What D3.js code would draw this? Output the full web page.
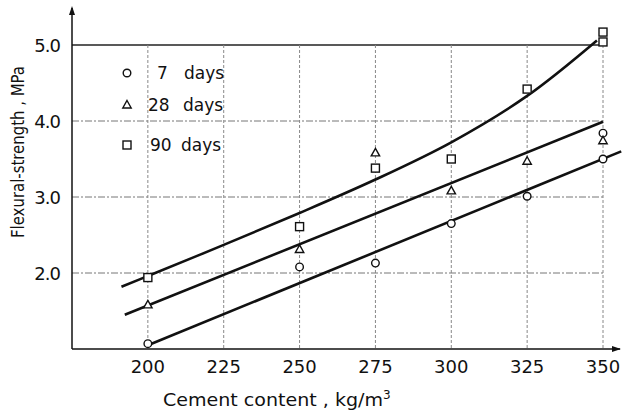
<!DOCTYPE html>
<html><head><meta charset="utf-8">
<script src="https://cdn.jsdelivr.net/npm/d3@7"></script>
<style>body{margin:0;background:#fff}svg{display:block}text{font-family:"DejaVu Sans",sans-serif;fill:#111}</style>
</head><body><svg id="c" width="623" height="413"></svg>
<script>
const xTicks=[200,225,250,275,300,325,350];
const yTicks=[2.0,3.0,4.0,5.0];
const days7=[[200,1.07],[250,2.08],[275,2.13],[300,2.65],[325,3.01],[350,3.84],[350,3.5]];
const days28=[[200,1.58],[250,2.31],[275,3.58],[300,3.08],[325,3.47],[350,3.74]];
const days90=[[200,1.94],[250,2.61],[275,3.38],[300,3.5],[325,4.42],[350,5.17],[350,5.04]];
const fit7=[[200,1.05],[356,3.6]];
const fit28=[[192.4,1.45],[350,3.99]];
const fit90=[[191.3,1.82],[200,1.96],[225,2.37],[250,2.79],[275,3.23],[300,3.72],[325,4.33],[348,5.06]];
const legendItems=[{s:"circle",n:"7",t:"days"},{s:"triangle",n:"28",t:"days"},{s:"square",n:"90",t:"days"}];

const svg=d3.select("#c");
const x=d3.scaleLinear().domain([175,350]).range([72,603]);
const y=d3.scaleLinear().domain([1,5]).range([349,45]);

// grid
svg.selectAll(".hg").data(yTicks).join("line")
 .attr("x1",x(175)).attr("x2",x(350)).attr("y1",d=>y(d)).attr("y2",d=>y(d))
 .attr("stroke",d=>d===5?"#222":"#777").attr("stroke-width",d=>d===5?1.3:1)
 .attr("stroke-dasharray",d=>d===5?null:"7,2,2,2");
svg.selectAll(".vg").data(xTicks).join("line")
 .attr("x1",d=>x(d)).attr("x2",d=>x(d)).attr("y1",y(5)).attr("y2",y(1))
 .attr("stroke","#888").attr("stroke-width",1).attr("stroke-dasharray","3,2");

// axes
svg.append("line").attr("x1",x(175)).attr("x2",x(175)).attr("y1",y(1)).attr("y2",8).attr("stroke","#111").attr("stroke-width",1.5);
svg.append("path").attr("d",`M${x(175)},6 l-3,9 l6,0 z`).attr("fill","#111");
svg.append("line").attr("x1",x(175)).attr("x2",620).attr("y1",y(1)).attr("y2",y(1)).attr("stroke","#111").attr("stroke-width",1.5);
svg.append("path").attr("d",`M621,${y(1)} l-9,-3 l0,6 z`).attr("fill","#111");

// tick labels
svg.selectAll(".xt").data(xTicks).join("text")
 .attr("x",d=>x(d)).attr("y",y(1)+24).attr("text-anchor","middle")
 .attr("font-size",18).text(d=>d);
svg.selectAll(".yt").data(yTicks).join("text")
 .attr("x",60).attr("y",d=>y(d)+7).attr("text-anchor","end")
 .attr("font-size",18).attr("letter-spacing",-1).text(d=>d.toFixed(1));

// axis titles
const xl=svg.append("text").attr("x",163).attr("y",406).attr("font-size",17);
xl.append("tspan").attr("textLength",220).attr("lengthAdjust","spacingAndGlyphs").text("Cement content , kg/m");
xl.append("tspan").attr("dy",-7).attr("font-size",12).text("3");
svg.append("text").attr("transform","translate(24,152) rotate(-90)").attr("text-anchor","middle")
 .attr("font-size",17).attr("textLength",172).attr("lengthAdjust","spacingAndGlyphs").text("Flexural-strength , MPa");

// fit lines
const line=d3.line().x(d=>x(d[0])).y(d=>y(d[1]));
const lineC=d3.line().x(d=>x(d[0])).y(d=>y(d[1])).curve(d3.curveCatmullRom);
[fit7,fit28].forEach(f=>svg.append("path").attr("d",line(f)).attr("fill","none").attr("stroke","#111").attr("stroke-width",2.6));
svg.append("path").attr("d",lineC(fit90)).attr("fill","none").attr("stroke","#111").attr("stroke-width",2.6);

// markers
function marker(g,s,cx,cy){
  if(s==="circle") g.append("circle").attr("cx",cx).attr("cy",cy).attr("r",3.8);
  else if(s==="triangle") g.append("path").attr("d",`M${cx},${cy-4.5} L${cx+4.2},${cy+3} L${cx-4.2},${cy+3} Z`);
  else g.append("rect").attr("x",cx-4).attr("y",cy-4).attr("width",8).attr("height",8);
}
const mg=svg.append("g").attr("fill","#fff").attr("stroke","#111").attr("stroke-width",1.4);
days7.forEach(d=>marker(mg,"circle",x(d[0]),y(d[1])));
days28.forEach(d=>marker(mg,"triangle",x(d[0]),y(d[1])));
days90.forEach(d=>marker(mg,"square",x(d[0]),y(d[1])));

// legend
const ly=[73,105,145], nx=[157,148,150], tx=[184,183,181];
legendItems.forEach((it,i)=>{
  marker(mg,it.s,127,ly[i]);
  svg.append("text").attr("x",nx[i]).attr("y",ly[i]+6).attr("font-size",17).text(it.n);
  svg.append("text").attr("x",tx[i]).attr("y",ly[i]+6).attr("font-size",17).text(it.t);
});
</script></body></html>
